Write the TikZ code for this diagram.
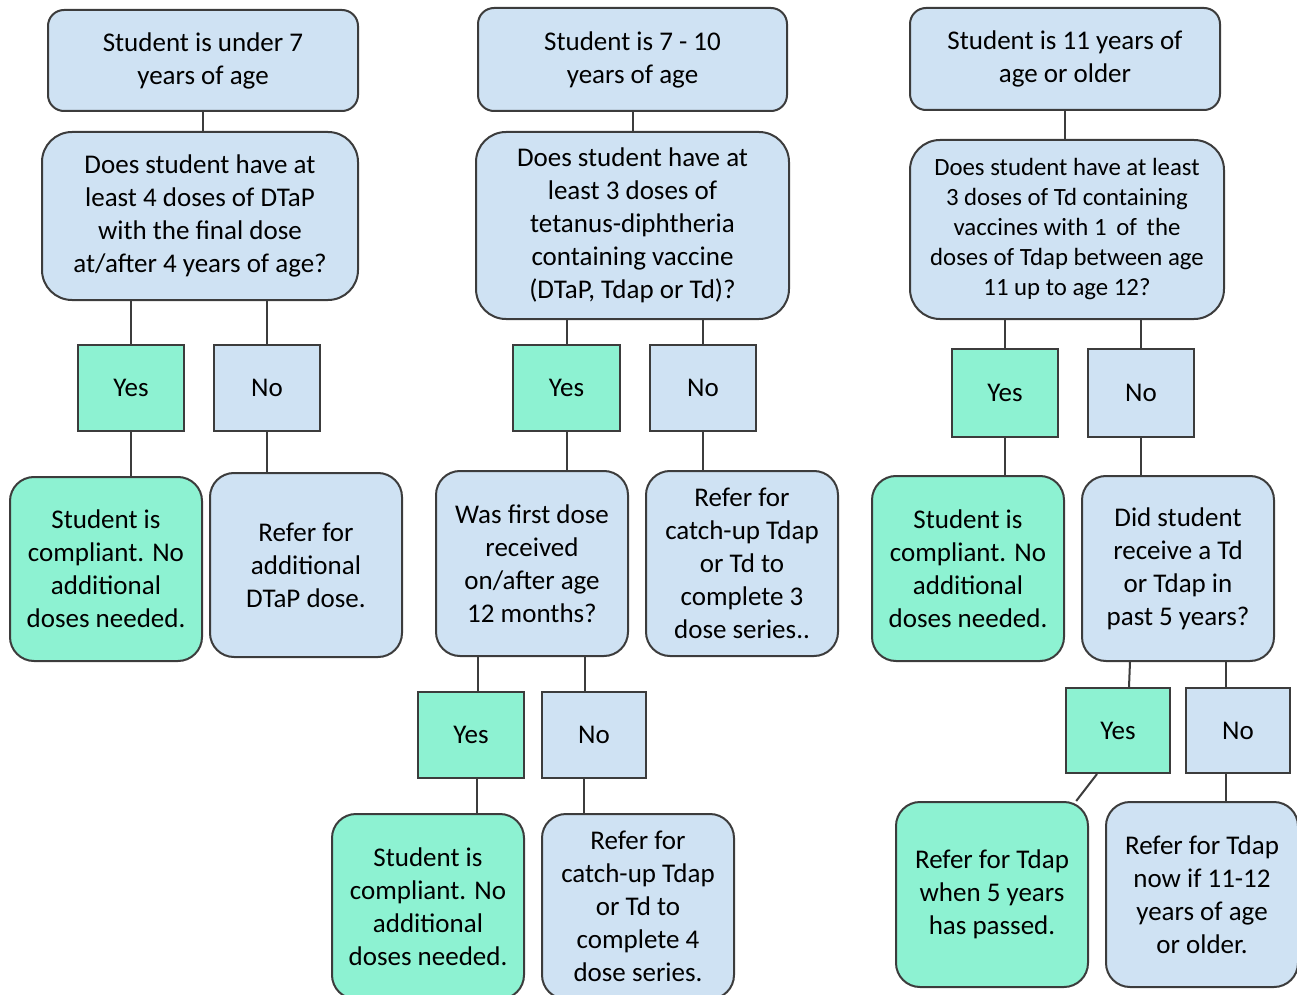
\documentclass[tikz,border=0pt]{standalone}
\usepackage{fontspec}
\setmainfont{Carlito}
\definecolor{boxblue}{RGB}{207,226,243}
\definecolor{boxgreen}{RGB}{141,242,210}
\definecolor{edgegray}{RGB}{60,60,60}

\tikzset{
  sz/.style 2 args={minimum width=#1*0.5pt, minimum height=#2*0.5pt},
  chartbox/.style={draw=edgegray, line width=1pt, align=center, inner sep=0pt,
    font=\fontsize{13.5}{16.5}\selectfont},
  agebox/.style={chartbox, fill=boxblue, rounded corners=8pt},
  askbox/.style={chartbox, fill=boxblue, rounded corners=15pt},
  endblue/.style={chartbox, fill=boxblue, rounded corners=12pt},
  endgreen/.style={chartbox, fill=boxgreen, rounded corners=12pt},
  yesbox/.style={chartbox, fill=boxgreen},
  nobox/.style={chartbox, fill=boxblue},
  link/.style={draw=edgegray, line width=1pt}
}

\begin{document}
\begin{tikzpicture}[x=0.5pt, y=-0.5pt]
    \useasboundingbox (0,0) rectangle (1297,995);

    % Under 7
    \node[agebox, sz={310}{101}] (u7) at (203,60.5) {Student is under 7\\years of age};
    \node[askbox, sz={316}{168}] (q4) at (200,216) {Does student have at\\least 4 doses of DTaP\\with the final dose\\at/after 4 years of age?};
    \node[yesbox, sz={106}{86}] (y1) at (131,388) {Yes};
    \node[nobox, sz={106}{86}] (n1) at (267,388) {No};
    \node[endgreen, sz={192}{184}] (ok1) at (106,569) {Student is\\compliant. No\\additional\\doses needed.};
    \node[endblue, sz={192}{184}] (ref1) at (306,565) {Refer for\\additional\\DTaP dose.};

    \draw[link] (u7.south) -- (u7.south |- q4.north);
    \draw[link] (y1.north) -- (y1.north |- q4.south);
    \draw[link] (n1.north) -- (n1.north |- q4.south);
    \draw[link] (y1.south) -- (y1.south |- ok1.north);
    \draw[link] (n1.south) -- (n1.south |- ref1.north);

    % 7 - 10
    \node[agebox, sz={309}{103}] (u10) at (632.5,59.5) {Student is 7 - 10\\years of age};
    \node[askbox, sz={313}{187}] (q3) at (632.5,225.5) {Does student have at\\least 3 doses of\\tetanus-diphtheria\\containing vaccine\\(DTaP, Tdap or Td)?};
    \node[yesbox, sz={107}{86}] (y2) at (566.5,388) {Yes};
    \node[nobox, sz={106}{86}] (n2) at (703,388) {No};
    \node[endblue, sz={192}{185}] (q12) at (532,563.5) {Was first dose\\received\\on/after age\\12 months?};
    \node[endblue, sz={192}{185}] (ref3) at (742,563.5) {Refer for\\catch-up Tdap\\or Td to\\complete 3\\dose series..};
    \node[yesbox, sz={106}{86}] (y3) at (471,735) {Yes};
    \node[nobox, sz={104}{86}] (n3) at (594,735) {No};
    \node[endgreen, sz={192}{185}] (ok2) at (428,906.5) {Student is\\compliant. No\\additional\\doses needed.};
    \node[endblue, sz={192}{185}] (ref4) at (638,906.5) {Refer for\\catch-up Tdap\\or Td to\\complete 4\\dose series.};

    \draw[link] (u10.south) -- (u10.south |- q3.north);
    \draw[link] (y2.north) -- (y2.north |- q3.south);
    \draw[link] (n2.north) -- (n2.north |- q3.south);
    \draw[link] (y2.south) -- (y2.south |- q12.north);
    \draw[link] (n2.south) -- (n2.south |- ref3.north);
    \draw[link] ([xshift=3.5pt]y3.north) -- ([xshift=3.5pt]y3.north |- q12.south);
    \draw[link] ([xshift=-4.5pt]n3.north) -- ([xshift=-4.5pt]n3.north |- q12.south);
    \draw[link] ([xshift=3pt]y3.south) -- ([xshift=3pt]y3.south |- ok2.north);
    \draw[link] ([xshift=-5pt]n3.south) -- ([xshift=-5pt]n3.south |- ref4.north);

    % 11 and older
    \node[agebox, sz={310}{102}] (u11) at (1065,59) {Student is 11 years of\\age or older};
    \node[askbox, sz={314}{179}, font=\fontsize{12.4}{15}\selectfont] (qtd) at (1067,229.5) {Does student have at least\\3 doses of Td containing\\vaccines with 1\, of\, the\\doses of Tdap between age\\11 up to age 12?};
    \node[yesbox, sz={106}{88}] (y4) at (1005,393) {Yes};
    \node[nobox, sz={106}{88}] (n4) at (1141,393) {No};
    \node[endgreen, sz={192}{185}] (ok3) at (968,568.5) {Student is\\compliant. No\\additional\\doses needed.};
    \node[endblue, sz={192}{185}] (q5y) at (1178,568.5) {Did student\\receive a Td\\or Tdap in\\past 5 years?};
    \node[yesbox, sz={104}{85}] (y5) at (1118,730.5) {Yes};
    \node[nobox, sz={104}{85}] (n5) at (1238,730.5) {No};
    \node[endgreen, sz={192}{185}] (wait5) at (992,894.5) {Refer for Tdap\\when 5 years\\has passed.};
    \node[endblue, sz={192}{185}] (ref5) at (1202,894.5) {Refer for Tdap\\now if 11-12\\years of age\\or older.};

    \draw[link] (u11.south) -- (u11.south |- qtd.north);
    \draw[link] (y4.north) -- (y4.north |- qtd.south);
    \draw[link] (n4.north) -- (n4.north |- qtd.south);
    \draw[link] (y4.south) -- (y4.south |- ok3.north);
    \draw[link] (n4.south) -- (n4.south |- q5y.north);
    \draw[link] ([xshift=5.5pt]y5.north) -- ([xshift=6pt]y5.north |- q5y.south);
    \draw[link] ([xshift=-6pt]n5.north) -- ([xshift=-6pt]n5.north |- q5y.south);
    \draw[link] ([xshift=-10.5pt]y5.south) -- (wait5.48);
    \draw[link] ([xshift=-6pt]n5.south) -- ([xshift=-6pt]n5.south |- ref5.north);
\end{tikzpicture}
\end{document}
